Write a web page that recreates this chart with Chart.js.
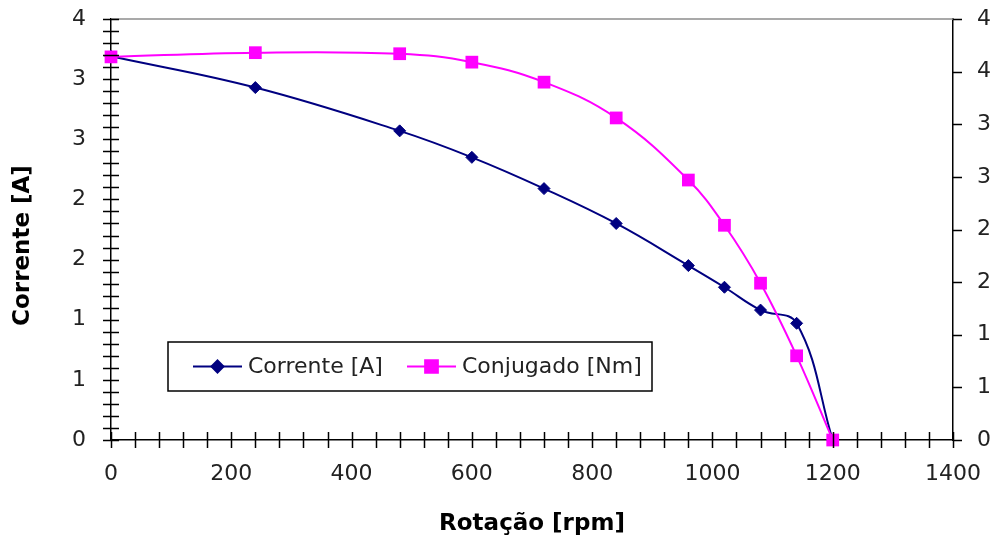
<!DOCTYPE html>
<html>
<head>
<meta charset="utf-8">
<script src="https://cdn.jsdelivr.net/npm/chart.js@4/dist/chart.umd.min.js"></script>
<style>
  html, body { margin: 0; padding: 0; background: #fff; }
  #wrap { width: 994px; height: 541px; }
</style>
</head>
<body>
<div id="wrap"><canvas id="motorChart" width="994" height="541"></canvas></div>
<script>
// values
const rotacao = [0, 240, 480, 600, 720, 840, 960, 1020, 1080, 1140, 1200];
const corrente = [3.19, 2.93, 2.57, 2.35, 2.09, 1.80, 1.45, 1.27, 1.08, 0.97, 0];
const conjugado = [3.64, 3.68, 3.67, 3.59, 3.40, 3.06, 2.47, 2.04, 1.49, 0.80, 0];
const seriesNames = ['Corrente [A]', 'Conjugado [Nm]'];

const FONT = 'DejaVu Sans, Liberation Sans, Arial, sans-serif';
const NAVY = '#000080';
const MAGENTA = '#FF00FF';

const ctx = document.getElementById('motorChart').getContext('2d');

function isMult(v, step) {
    const q = v / step;
    return Math.abs(q - Math.round(q)) < 1e-6;
}

// fixed box sizes so the plot area sits where it does in the picture
function fixBox(w, h) {
    return s => {
        if (w !== null) s.width = w;
        if (h !== null) s.height = h;
        s.paddingTop = 0;
        s.paddingBottom = 0;
        s.paddingLeft = 0;
        s.paddingRight = 0;
    };
}

// tick marks drawn across the axes, top border and the boxed legend
const axisDecor = {
    id: 'axisDecor',
    afterDraw(chart) {
        const c = chart.ctx;
        const area = chart.chartArea;
        const xs = chart.scales.x;
        const yl = chart.scales.y;
        const yr = chart.scales.y2;
        c.save();
        // top border
        c.strokeStyle = '#8c8c8c';
        c.lineWidth = 1.5;
        c.beginPath();
        c.moveTo(area.left, area.top);
        c.lineTo(area.right, area.top);
        c.stroke();

        c.strokeStyle = '#000';
        c.lineWidth = 1.5;
        c.beginPath();
        yl.ticks.forEach((t, i) => {
            const p = Math.round(yl.getPixelForTick(i)) + 0.5;
            c.moveTo(area.left - 8, p);
            c.lineTo(area.left + 8, p);
        });
        xs.ticks.forEach((t, i) => {
            const p = Math.round(xs.getPixelForTick(i)) + 0.5;
            c.moveTo(p, area.bottom - 8);
            c.lineTo(p, area.bottom + 8);
        });
        yr.ticks.forEach((t, i) => {
            const p = Math.round(yr.getPixelForTick(i)) + 0.5;
            c.moveTo(area.right, p);
            c.lineTo(area.right + 9, p);
        });
        c.stroke();

        // legend box
        const bx = area.left + 57, by = 342, bw = 484, bh = 49;
        c.fillStyle = '#fff';
        c.fillRect(bx, by, bw, bh);
        c.lineWidth = 1.5;
        c.strokeStyle = '#000';
        c.strokeRect(bx, by, bw, bh);

        const cy = by + bh / 2;
        const items = [
            { x: bx + 25, color: NAVY, style: 'rectRot', r: 6 },
            { x: bx + 239, color: MAGENTA, style: 'rect', r: 9 }
        ];
        c.font = '22px ' + FONT;
        c.textBaseline = 'middle';
        items.forEach((it, i) => {
            c.strokeStyle = it.color;
            c.lineWidth = 2;
            c.beginPath();
            c.moveTo(it.x, cy);
            c.lineTo(it.x + 49, cy);
            c.stroke();
            c.fillStyle = it.color;
            Chart.helpers.drawPoint(c, { pointStyle: it.style, radius: it.r, borderWidth: 1 }, it.x + 24.5, cy);
            c.fill();
            c.fillStyle = '#222';
            c.fillText(seriesNames[i], it.x + 55, cy + 1);
        });
        c.restore();
    }
};

const myChart = new Chart(ctx, {
    type: 'line',
    data: {
        datasets: [
            {
                label: seriesNames[0],
                data: rotacao.map((r, i) => ({ x: r, y: corrente[i] })),
                yAxisID: 'y',
                borderColor: NAVY,
                backgroundColor: NAVY,
                borderWidth: 2,
                pointStyle: 'rectRot',
                pointRadius: 6,
                pointBorderWidth: 1,
                tension: 0.4,
                clip: false,
                order: 1
            },
            {
                label: seriesNames[1],
                data: rotacao.map((r, i) => ({ x: r, y: conjugado[i] })),
                yAxisID: 'y2',
                borderColor: MAGENTA,
                backgroundColor: MAGENTA,
                borderWidth: 2,
                pointStyle: 'rect',
                pointRadius: 9,
                pointBorderWidth: 0,
                tension: 0.4,
                clip: false,
                order: 0
            }
        ]
    },
    options: {
        responsive: false,
        animation: false,
        devicePixelRatio: 1,
        layout: { padding: { top: 19, left: 0, right: 0, bottom: 0 } },
        plugins: {
            legend: { display: false },
            tooltip: { enabled: false }
        },
        scales: {
            x: {
                type: 'linear',
                min: 0,
                max: 1400,
                afterFit: fixBox(null, 101),
                grid: { drawOnChartArea: false, drawTicks: false },
                border: { color: '#000', width: 1.5 },
                ticks: {
                    stepSize: 40,
                    autoSkip: false,
                    maxRotation: 0,
                    padding: 21,
                    color: '#222',
                    font: { family: FONT, size: 22 },
                    callback: v => isMult(v, 200) ? String(Math.round(v)) : ''
                },
                title: {
                    display: true,
                    text: 'Rotação [rpm]',
                    color: '#000',
                    font: { family: FONT, size: 23, weight: 'bold' },
                    padding: { top: 0, bottom: 3 }
                }
            },
            y: {
                position: 'left',
                min: 0,
                max: 3.5,
                afterFit: fixBox(111, null),
                grid: { drawOnChartArea: false, drawTicks: false },
                border: { color: '#000', width: 1.5 },
                ticks: {
                    stepSize: 0.1,
                    autoSkip: false,
                    padding: 25,
                    color: '#222',
                    font: { family: FONT, size: 22 },
                    callback: v => isMult(v, 0.5) ? String(Math.round(v + 1e-9)) : ''
                },
                title: {
                    display: true,
                    text: 'Corrente [A]    ',
                    color: '#000',
                    font: { family: FONT, size: 23, weight: 'bold' },
                    padding: { top: 9, bottom: 0 }
                }
            },
            y2: {
                position: 'right',
                min: 0,
                max: 4,
                afterFit: fixBox(41, null),
                grid: { drawOnChartArea: false, drawTicks: false },
                border: { color: '#000', width: 1.5 },
                ticks: {
                    stepSize: 0.5,
                    autoSkip: false,
                    padding: 24,
                    color: '#222',
                    font: { family: FONT, size: 22 },
                    callback: v => String(Math.round(v + 1e-9))
                }
            }
        }
    },
    plugins: [axisDecor]
});
</script>
</body>
</html>
